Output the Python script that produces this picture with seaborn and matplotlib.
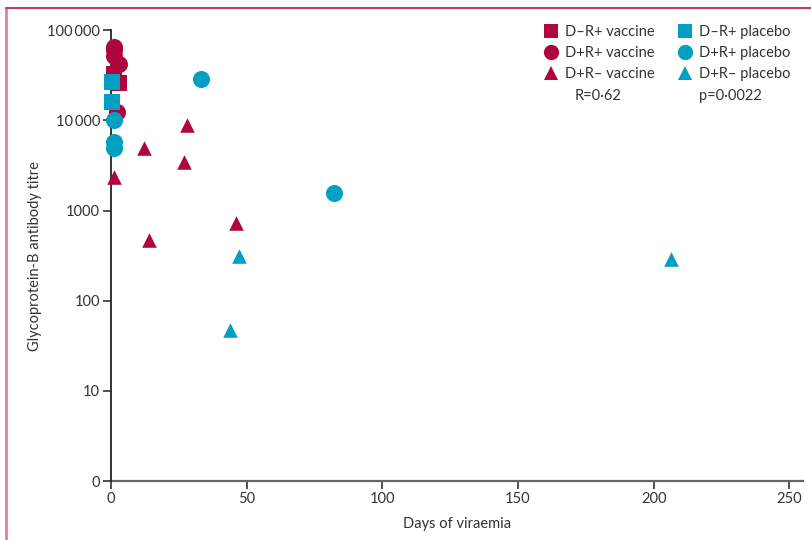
import numpy as np
import pandas as pd
import seaborn as sns
import matplotlib.pyplot as plt
from matplotlib.lines import Line2D

# values (days of viraemia, gB antibody titre)
vac_sq_days = [1, 3]
vac_sq_titre = [33000, 26000]
vac_ci_days = [1, 1, 1, 3, 2]
vac_ci_titre = [65000, 60000, 52000, 42000, 12500]
vac_tr_days = [1, 12, 28, 27, 14, 46]
vac_tr_titre = [2350, 4900, 8900, 3500, 470, 730]

pla_sq_days = [0.5, 0.5]
pla_sq_titre = [26500, 16000]
pla_ci_days = [1, 1, 1, 33, 82]
pla_ci_titre = [10000, 5700, 5000, 29000, 1550]
pla_tr_days = [47, 44, 206.5]
pla_tr_titre = [310, 47, 290]

groups = ["D\u2013R+", "D+R+", "D+R\u2013"]
arms = ["vaccine", "placebo"]
yticks = [1, 10, 100, 1000, 10000, 100000]
ylabels = ["0", "10", "100", "1000", "10\u2009000", "100\u2009000"]
xticks = [0, 50, 100, 150, 200, 250]

rows = []
for arm, sets in [("vaccine", [(vac_sq_days, vac_sq_titre), (vac_ci_days, vac_ci_titre), (vac_tr_days, vac_tr_titre)]),
                  ("placebo", [(pla_sq_days, pla_sq_titre), (pla_ci_days, pla_ci_titre), (pla_tr_days, pla_tr_titre)])]:
    for g, (d, t) in zip(groups, sets):
        for a, b in zip(d, t):
            rows.append({"days": a, "titre": b, "arm": arm, "group": g})
df = pd.DataFrame(rows)

red = "#B0063E"
blue = "#00A0C3"
palette = {"vaccine": red, "placebo": blue}
markers = {groups[0]: "s", groups[1]: "o", groups[2]: "^"}
sizes = {"s": 120, "o": 150, "^": 110}

sns.set_style("white")
plt.rcParams["font.family"] = ["Lato", "DejaVu Sans"]

fig = plt.figure(figsize=(8.11, 5.40), dpi=100)
ax = fig.add_axes([0.137, 0.109, 0.853, 0.835])

# vaccine first, placebo drawn on top
for arm in arms:
    for g in groups:
        sub = df[(df.group == g) & (df.arm == arm)]
        sns.scatterplot(data=sub, x="days", y="titre", color=palette[arm],
                        marker=markers[g], s=sizes[markers[g]], linewidth=0,
                        legend=False, ax=ax, zorder=3, clip_on=False)

ax.set_yscale("log")
ax.set_ylim(1, 100000)
ax.set_xlim(0, 255)
ax.set_yticks(yticks)
ax.set_yticklabels(ylabels)
ax.yaxis.set_minor_locator(plt.NullLocator())
ax.set_xticks(xticks)
ax.tick_params(axis="both", direction="out", length=6, width=1.2, color="#333333",
               labelsize=10.5, labelcolor="#333333", pad=2, left=True, bottom=True)
for s in ["top", "right"]:
    ax.spines[s].set_visible(False)
ax.spines["left"].set_color("#222222")
ax.spines["left"].set_linewidth(1.3)
ax.spines["bottom"].set_color("#666666")
ax.spines["bottom"].set_linewidth(1.6)
ax.spines["bottom"].set_zorder(2)
ax.set_xlabel("Days of viraemia", fontsize=10.5, color="#333333", labelpad=8)
ax.set_ylabel("Glycoprotein-B antibody titre", fontsize=10.5, color="#333333", labelpad=4)

handles = []
labels = []
for arm in arms:
    for g in groups:
        m = markers[g]
        handles.append(Line2D([], [], linestyle="none", marker=m, color=palette[arm],
                              markersize=11 if m == "o" else 10, markeredgewidth=0))
        labels.append(f"{g} {arm}")
leg = ax.legend(handles, labels, ncol=2, loc="upper right", bbox_to_anchor=(0.99, 1.025),
                frameon=False, fontsize=10.5, handlelength=0.9, handletextpad=0.5,
                columnspacing=1.6, labelspacing=0.48, borderaxespad=0)
for t in leg.get_texts():
    t.set_color("#333333")

fig.text(598 / 811, 1 - 96 / 540, "R=0\u00b762", ha="center", va="center",
         fontsize=10.5, color="#333333")
fig.text(730 / 811, 1 - 96 / 540, "p=0\u00b70022", ha="center", va="center",
         fontsize=10.5, color="#333333")

# pink frame round the panel
yt = 1 - 8 / 540
fig.add_artist(Line2D([6 / 811, 6 / 811], [0, yt], color="#E0809C", linewidth=2))
fig.add_artist(Line2D([6 / 811, 1], [yt, yt], color="#CC3D62", linewidth=1.5))

fig.savefig("out.png", dpi=100)
